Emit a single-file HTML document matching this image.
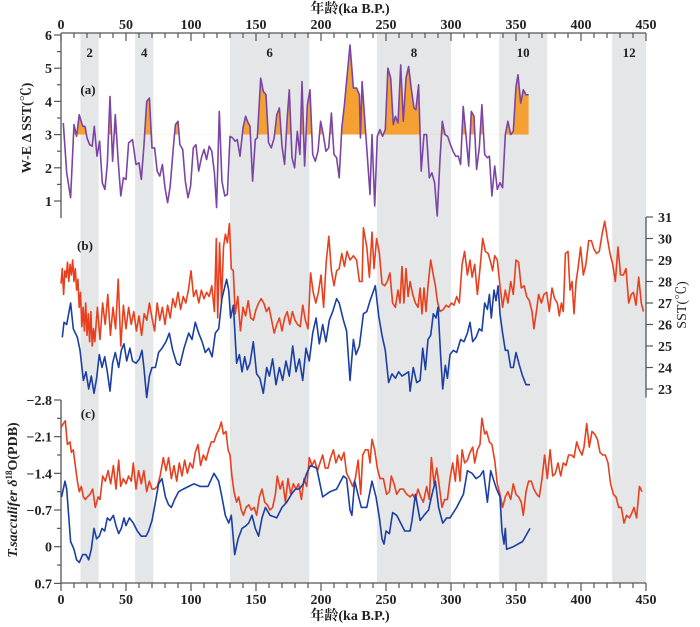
<!DOCTYPE html>
<html><head><meta charset="utf-8"><style>
html,body{margin:0;padding:0;background:#fff;}
svg{display:block;}
text{font-family:"Liberation Serif","Noto Serif CJK SC",serif;font-weight:bold;fill:#222;}
</style></head><body>
<svg id="chart" width="700" height="627" viewBox="0 0 700 627" xmlns="http://www.w3.org/2000/svg">
<g id="bands"></g>
<g id="axes"></g>
<g id="marks"></g>
<g id="labels"></g>
</svg>
<script>
// ---- data ----
const stageNames = ["2","4","6","8","10","12"];
const stageStart = [15,57,130,243,337,424];
const stageEnd = [29,71,191,300,374,450];
const xTicks = [0,50,100,150,200,250,300,350,400,450];
const aTicks = [1,2,3,4,5,6];
const bTicks = [23,24,25,26,27,28,29,30,31];
const cTicks = [-2.8,-2.1,-1.4,-0.7,0,0.7];
const cTickLabels = ["-2.8","-2.1","-1.4","-0.7","0","0.7"];

const aAge = [1.8,4.4,7.4,10,12,14,16.7,18.5,20,22,24,25.6,27.7,29.7,31.8,33.8,35.6,37.7,39.7,41.8,44,46,48,50,52,55,57.7,60,61.8,63.8,65.9,68,70,72,74,76,78,80,82,84,86.4,88,90,91.5,93.6,95.6,97.7,99.7,101.8,103.8,105.9,108,110,112,114,116,118,119.7,121.8,123.8,126,128,130,132,134,135.6,137.7,140,142,144,145.4,147.4,149.5,151,153.6,155.6,157.7,159.7,161.8,164,166,168,170,172,174,175.6,177.7,179.7,181.8,183.8,185.4,187.4,189.5,191.5,193.6,195.6,197.7,199.7,201.8,203.8,205.9,208,210,212,214,216,218,222.3,224.9,227.4,229.5,230.3,231.6,237.7,239.2,241.3,243.3,245.4,247.4,249.5,251.5,253.6,255.6,257.2,259.2,261.3,263.3,265.4,267.4,269.5,271.5,273,275.1,277.1,279.2,281.2,283.3,285.3,287.4,289.4,291.5,293.3,295.4,297.4,299.5,301.5,303.6,305.6,307.4,309.4,311.5,313.6,315.6,317.7,319.7,321.8,323.8,325.9,328,329.5,331.5,333.6,335.6,337.7,339.7,341.8,343.8,345.9,347.9,350,351.5,353.6,355.6,357.7,359.7];
const aVal = [3.35,1.85,1.1,3.3,2.95,3.6,3.25,3.25,2.9,2.7,2.65,3.25,2.35,2.8,1.55,1.35,2.1,4.15,2.2,3.6,2.2,1.15,1.7,1.65,2.75,2.85,2.1,2.15,1.65,2.65,4.0,4.1,2.6,2.6,1.9,1.75,2.1,1.4,0.95,1.45,2.6,3.3,3.4,2.7,2.55,1.6,1.1,1.45,2.6,2.7,1.9,2.3,2.55,2.25,2.65,2.5,1.85,0.8,3.7,1.6,1.15,1.2,2.95,2.9,2.8,2.85,2.35,3.2,3.55,3.35,3.25,1.6,2.85,2.9,4.7,4.3,4.2,2.75,2.6,2.9,3.6,3.8,2.65,2.1,3.5,4.35,2.3,2.0,3.1,2.4,4.6,2.05,3.9,4.35,2.4,2.2,2.5,3.4,3.0,2.5,2.6,3.65,2.4,2.3,1.7,3.2,3.9,5.7,4.4,4.4,4.2,2.9,4.6,1.2,3.0,0.85,2.95,3.15,2.95,3.15,5.0,4.7,3.3,3.55,3.35,5.1,3.4,4.7,5.05,4.35,3.8,3.75,4.5,1.9,3.0,3.0,1.7,1.85,1.55,0.55,2.2,3.4,3.0,2.95,2.7,2.5,2.35,2.35,2.1,3.85,3.0,2.05,3.7,3.55,1.95,2.6,3.9,2.4,2.3,2.35,1.15,2.05,1.35,1.55,1.4,3.0,3.4,3.0,3.1,4.45,4.8,3.95,4.35,4.2,4.2];

const bRedAge = [0,1,2,3,4,5,6,7,8,9,10,11,12,13,14,15,16,17,18,19,20,21,22,23,24,25,26,28,30,32,34,36,38,40,42,44,46,48,50,52,54,56,58,60,62,64,66,68,70,72,74,76,78,80,82,84,86,88,90,92,94,96,98,100,102,104,106,108,110,112,114,116,118,119.5,120.5,122,123.5,125,126.5,128,129.5,131,132.5,134,136,138,140,142,144,146,148,150,152,154,156,158,160,162,164,166,168,170,172,174,176,178,180,182,184,186,188,190,192,194,196,198,200,202,204,206,208,210,212,214,216,218,220,222.3,224.9,227.4,229.5,231.6,232.6,235.2,237.2,239.2,240.8,242.8,244.9,246.9,249,251,253,255.1,257.2,259.2,260.8,262.3,263.8,265.4,267,268.5,270.5,272.6,274.6,276.2,277.7,279.2,280.8,282.3,284.4,286.4,288,289.5,291.5,294.1,296.2,298.2,300.3,302.3,304.4,306.4,308.5,310.5,312.6,314.6,316.2,318.2,320.3,322.3,324.4,326.4,328.5,330.5,332,333.6,335.6,337.7,339.7,341.8,343.8,345.9,347.9,350,352,354.1,356.2,358.2,360.3,362.3,363.8,365.9,367.4,369.5,371.5,373.6,375.6,377.7,379.7,381.8,383.3,384.9,386.4,388,390,391.5,393.1,394.6,396.2,397.7,399.7,401.8,403.8,405.9,408,410,412,414.1,416.2,418.2,420.3,422.3,424.4,426.4,428.5,430.5,432.6,434.6,436.7,438.7,440.3,442.3,444.4,446.4,448];
const bRedVal = [27.9,28.6,27.4,28.5,28.2,28.9,28.0,28.8,28.3,29.0,28.0,28.6,27.6,28.1,26.8,27.5,25.9,26.8,25.7,27.0,25.5,26.5,25.2,26.6,25.0,25.8,25.2,26.8,25.3,27.0,26.0,27.4,25.5,26.8,25.8,28.1,25.0,26.9,25.8,26.8,26.0,26.6,25.7,26.4,25.5,26.5,26.2,27.0,26.3,25.7,27.0,26.2,26.8,26.0,26.9,26.3,27.2,26.8,27.5,26.7,27.3,27.0,27.6,28.5,27.3,27.6,27.0,27.6,27.2,27.5,27.3,27.8,26.6,30.0,26.3,29.8,27.0,29.6,30.2,29.8,30.7,28.6,28.5,26.5,27.3,25.7,26.8,26.4,27.1,26.3,26.2,26.7,27.0,27.2,27.0,26.6,26.8,26.2,25.6,26.0,26.3,25.7,26.3,26.6,26.0,26.6,26.2,26.0,25.9,26.9,26.2,25.8,28.4,27.5,27.0,27.5,28.3,26.8,28.9,30.1,28.5,27.8,28.5,28.6,29.3,28.7,29.4,29.0,29.2,29.0,28.0,28.0,30.5,29.6,28.2,30.3,28.6,30.0,29.3,27.9,27.8,28.0,28.4,27.0,26.8,27.6,27.0,28.7,27.0,28.6,27.3,28.0,27.4,27.0,26.8,27.7,26.5,27.7,26.6,27.8,29.0,28.3,27.8,27.1,26.6,26.7,26.9,26.8,27.0,26.9,27.3,27.0,28.8,29.4,28.3,29.0,28.2,28.8,27.4,28.6,30.0,29.4,29.3,28.9,28.5,29.2,29.0,27.8,26.8,27.6,27.0,28.0,27.4,29.0,28.9,27.7,27.8,27.3,27.1,26.6,25.8,26.7,27.4,27.0,27.4,27.5,26.6,27.7,27.2,27.0,26.4,27.0,26.6,29.3,29.4,27.6,28.0,26.5,28.0,28.6,29.6,28.3,28.8,29.9,29.9,29.5,29.3,29.4,30.2,30.8,30.0,29.3,28.8,28.0,29.6,28.3,28.3,28.6,27.0,27.4,27.5,26.9,28.2,27.0,26.6];

const bBlueAge = [1,2.3,4.4,7.4,9.5,12.6,14.6,17.2,19.2,21.3,23.3,25.4,27.4,29.5,31.5,33.6,35.6,37.7,39.7,41.8,44.4,46.4,48.5,50.5,53,55,57.7,60.3,62.3,63.8,65.9,68,70,72.6,75.1,77.7,80.8,83.3,85.9,89,91.5,94.6,98.2,100.8,103.3,105.9,108.5,111,113.6,116.2,118.7,121.3,123.8,127.4,129,130.5,132.6,135.1,137.2,139.2,141.3,143.3,145.4,147.9,150.5,153,155.6,158.2,160.3,162.8,165.4,168,170.5,173.1,175.6,178.2,180.8,183.3,185.9,188.5,191,193.6,196.2,198.7,201.3,203.8,206.4,209,212,214,217.2,219.7,222.3,224.9,226.9,229.5,232.6,235.2,237.7,241.8,244.4,246.9,249.5,252,254.6,257.2,259.7,262.3,264.9,267.4,268.5,271,273.6,276.2,278.2,280.3,282.3,284.4,286.4,288.5,290,292.1,293.6,295.6,297.2,299.2,301.8,304.4,307.4,310,312.6,314.6,316.7,319.2,321.8,323.8,325.9,328,329.5,331,333.1,334.6,336.2,337.7,339.7,341.8,343.8,345.9,347.9,350,352.6,355.1,357.7,360.8];
const bBlueVal = [25.4,26.1,26.0,27.0,25.8,25.4,24.8,23.4,23.8,23.0,23.6,22.8,23.5,24.6,24.0,24.5,23.8,22.9,24.2,24.7,24.0,24.8,25.1,24.3,24.9,24.3,24.2,24.4,24.8,24.0,22.6,23.6,24.0,24.0,24.7,24.9,25.2,25.6,24.8,24.2,24.1,24.9,25.6,25.3,26.1,25.6,25.2,24.7,24.9,24.5,25.6,25.8,27.2,28.1,27.6,26.3,26.9,24.2,24.6,23.8,24.5,23.9,24.2,25.2,23.7,23.5,22.8,24.0,23.6,24.4,23.2,24.0,23.4,24.3,23.6,25.0,23.8,24.4,23.4,24.9,24.3,25.6,26.3,25.1,26.0,25.2,26.2,26.6,27.2,27.0,26.2,25.7,23.4,25.3,24.6,25.0,26.5,26.6,27.1,27.8,26.4,25.5,24.8,23.3,23.7,23.5,23.8,23.6,23.7,23.8,22.9,24.0,23.3,23.4,24.9,23.9,25.3,25.5,26.5,26.3,26.8,24.5,23.0,24.1,23.5,24.6,24.8,24.7,25.3,25.2,25.6,26.1,25.2,25.4,25.8,25.7,27.0,26.7,27.4,26.3,27.6,27.1,27.8,26.5,25.6,24.8,24.8,24.0,24.0,24.7,24.1,23.6,23.2,23.2];

const cRedAge = [0,1.8,3.3,4.9,6.9,8,9.5,11,12.6,14.1,15.6,17.2,18.7,20.3,22.3,24.4,26.4,28.5,30,32.1,34.1,36.2,38.2,40.3,42.3,44.4,45.9,47.9,50,52,54.1,55.6,57.7,59.7,61.8,63.8,65.9,67.9,70,72,74.1,76.2,78.7,80.8,82.8,84.9,86.9,89,91,93.1,95.1,97.2,99.2,101.3,103.3,105.4,107.4,109.5,111.5,113.6,115.6,117.7,119.7,121.8,123.3,124.9,126.9,128.5,130,131.5,133.1,135.1,136.7,138.7,140.3,142.3,144.4,146.4,148.5,150.5,152.6,154.6,156.7,158.7,160.8,162.8,164.9,166.4,168.5,170.5,172.6,174.6,176.7,178.7,180.8,182.8,184.9,186.9,189,191,193.1,195.1,197.2,199.2,201.3,203.3,205.4,207.4,209.5,211.5,213.6,215.6,217.7,219.7,221.8,224.4,226.4,228.5,230.5,232.1,234.1,236.2,237.7,239.2,241.3,243.3,245.4,248,250.5,252.6,254.1,256.2,258.2,260.8,263.3,265.9,268.5,270.5,272.6,274.6,276.7,278.7,281.3,283.3,284.9,286.9,289,291,293.1,295.1,297.2,299.2,301.3,303.3,304.9,306.9,308.5,310.5,312.6,314.6,316.7,318.2,320.3,322.3,323.8,325.9,327.4,329.5,331.5,333.6,335.6,337.7,339.7,341.8,343.8,345.9,347.9,350,352,354.1,355.6,357.7,359.7,361.8,363.8,365.9,367.9,370,372,374.1,376.2,378.2,380.3,382.3,384.4,386.4,388.5,390.5,392.6,394.6,396.7,398.7,400.8,402.3,404.4,406.4,408.5,410.5,412.6,414.6,416.7,418.7,420.8,422.8,424.9,426.9,429,431,433.1,435.1,437.2,439.2,440.8,442.8,444.9,446.9];
const cRedVal = [-2.27,-2.35,-2.4,-1.95,-2.0,-1.8,-1.85,-1.55,-1.25,-1.05,-1.15,-0.95,-0.9,-0.95,-1.0,-1.1,-0.75,-0.95,-0.9,-1.35,-1.25,-1.45,-1.2,-1.55,-1.1,-1.65,-1.15,-1.3,-1.2,-1.35,-1.25,-1.6,-1.1,-1.45,-1.2,-1.45,-1.05,-1.25,-1.1,-1.1,-1.15,-1.35,-1.7,-1.45,-1.7,-1.3,-1.55,-1.25,-1.6,-1.35,-1.65,-1.4,-1.6,-1.5,-1.8,-1.95,-1.55,-1.75,-1.65,-1.85,-2.0,-2.0,-2.15,-2.25,-2.38,-2.15,-2.2,-1.85,-1.75,-1.35,-1.05,-0.85,-0.95,-0.7,-0.6,-0.75,-0.8,-0.7,-0.75,-0.6,-0.95,-1.1,-0.85,-0.8,-0.7,-0.75,-1.0,-1.35,-1.1,-1.25,-0.85,-1.3,-1.0,-1.2,-1.1,-1.2,-0.9,-1.3,-1.15,-1.7,-1.55,-1.65,-1.45,-1.6,-1.75,-1.5,-1.5,-1.7,-1.85,-1.6,-1.75,-1.65,-1.8,-1.4,-1.3,-1.15,-1.3,-1.65,-1.0,-1.75,-1.85,-1.85,-1.6,-2.05,-1.85,-1.5,-1.3,-1.3,-1.0,-1.05,-1.35,-1.2,-1.0,-1.1,-1.1,-1.0,-0.95,-1.0,-0.9,-1.1,-0.95,-0.85,-1.15,-0.9,-1.7,-1.2,-1.5,-1.15,-0.75,-0.9,-0.9,-1.3,-1.6,-1.25,-1.75,-1.25,-1.85,-1.6,-1.65,-1.8,-1.9,-1.6,-1.85,-1.95,-2.45,-2.15,-2.2,-2.0,-1.95,-1.65,-1.2,-1.0,-0.75,-0.95,-1.05,-0.9,-1.2,-1.0,-0.95,-0.85,-0.6,-1.05,-1.25,-1.25,-1.1,-1.0,-0.95,-1.3,-1.75,-1.3,-1.85,-1.35,-1.4,-1.6,-1.35,-1.6,-1.55,-1.75,-1.75,-1.7,-2.0,-1.85,-1.75,-1.9,-2.35,-1.9,-2.2,-2.15,-2.05,-1.8,-1.75,-1.75,-1.6,-1.2,-1.0,-0.95,-0.75,-0.75,-0.45,-0.6,-0.55,-0.65,-0.75,-0.55,-1.15,-1.05];

const cBlueAge = [0.5,3.1,4.4,7.4,10,12,14.1,16.7,19.2,21.3,23.3,25.4,27.4,29.5,31.5,33.6,35.6,37.7,40.3,42.3,44.4,46.4,48.5,50,52.6,55.6,58.7,61.8,65.4,67.4,70,72.6,75.1,77.7,80.3,82.8,84.9,87.4,90.5,94.1,98.2,102.3,106.9,113.1,117.7,121.3,123.8,126.4,129,131,133.6,136.2,139.2,142.3,144.4,146.9,149.5,152,154.6,157.2,160.8,165.9,170,173.6,177.2,180.3,183.3,186.4,189,192,196.7,201.3,206.9,212,217.2,219.7,222.3,223.8,225.9,227.9,231,235.2,239.2,242.3,244.9,246.9,248.5,250,252.6,255.1,258.2,261.3,264.4,268.5,270,272.6,274.1,276.2,279.2,282.8,285.4,288,290.5,293.6,296.7,299.2,304.4,309.5,312.6,316.2,319.2,322.3,324.9,328,330.5,333.1,335.1,337.7,339.2,340.8,341.8,342.8,347.9,355.1,360.8];
const cBlueVal = [-0.95,-1.25,-1.1,-0.1,0.05,0.25,0.3,0.15,0.15,0.25,0.05,-0.35,-0.15,-0.2,-0.35,-0.3,-0.55,-0.5,-0.6,-0.4,-0.25,-0.35,-0.55,-0.4,-0.55,-0.45,-0.3,-0.2,-0.2,-0.3,-0.5,-0.85,-1.2,-1.3,-0.95,-0.8,-0.75,-0.9,-1.05,-1.1,-1.15,-1.2,-1.15,-1.15,-1.4,-1.25,-0.95,-0.6,-0.45,-0.6,0.15,-0.15,-0.35,-0.4,-0.45,-0.6,-0.35,-0.2,-0.55,-0.75,-0.6,-0.55,-0.75,-0.85,-1.0,-1.1,-1.1,-1.2,-1.4,-1.55,-1.5,-0.95,-1.05,-1.1,-1.35,-1.3,-0.7,-0.6,-1.25,-1.05,-0.75,-0.75,-1.25,-0.95,-0.55,-0.15,-0.05,-0.3,-0.25,-0.65,-0.6,-0.45,-0.3,-0.3,-0.5,-1.0,-0.8,-0.5,-0.6,-0.7,-1.0,-1.25,-0.75,-0.45,-0.55,-0.55,-0.75,-1.0,-1.45,-1.4,-1.3,-1.35,-1.45,-0.85,-1.45,-1.25,-1.1,-0.95,-0.3,-0.05,-0.35,0.05,0.0,-0.1,-0.35];

// ---- scales ----
const X0 = 61, X1 = 646, TOP = 33, BOT = 583;
function x(t){ return X0 + (t/450)*(X1-X0); }
function yA(v){ return 35 + (6 - v)*33.2; }
function yB(v){ return 389 - (v - 23)*21.5; }
function yC(v){ return 546.7 + v*52.4; }

const NS = "http://www.w3.org/2000/svg";
function mk(tag, parent, attrs){
  const e = document.createElementNS(NS, tag);
  for (const k in attrs) e.setAttribute(k, attrs[k]);
  parent.appendChild(e);
  return e;
}
const gBands = document.getElementById('bands');
const gAxes = document.getElementById('axes');
const gMarks = document.getElementById('marks');
const gLab = document.getElementById('labels');

// bands
for (let i=0;i<stageNames.length;i++){
  const r = mk('rect', gBands, {x:x(stageStart[i]), y:TOP, width:x(stageEnd[i])-x(stageStart[i]), height:BOT-TOP, fill:'#e5e6e7'});
  
  
  const tx = mk('text', gLab, {x:(x(stageStart[i])+x(stageEnd[i]))/2, y:57, 'text-anchor':'middle', 'font-size':13});
  tx.textContent = stageNames[i];
  
  
}

const AX = '#555';
// top axis
mk('line', gAxes, {x1:X0, y1:TOP, x2:X1, y2:TOP, stroke:AX, 'stroke-width':1.3});
mk('line', gAxes, {x1:X0, y1:BOT, x2:X1, y2:BOT, stroke:AX, 'stroke-width':1.3});
for (let t=0;t<=450;t+=10){
  const major = t%50===0;
  mk('line', gAxes, {x1:x(t), y1:TOP, x2:x(t), y2:TOP+(major?8:5), stroke:AX, 'stroke-width':1.2});
  mk('line', gAxes, {x1:x(t), y1:BOT, x2:x(t), y2:BOT+(major?8:5), stroke:AX, 'stroke-width':1.2});
}
for (const t of xTicks){
  const a = mk('text', gLab, {x:x(t), y:29, 'text-anchor':'middle', 'font-size':14});
  a.textContent = t;
  
  
  const b = mk('text', gLab, {x:x(t), y:604, 'text-anchor':'middle', 'font-size':14});
  b.textContent = t;
  
  
}
// left axis a
mk('line', gAxes, {x1:X0, y1:yA(6), x2:X0, y2:218, stroke:AX, 'stroke-width':1.3});
for (let v=1; v<=6; v+=0.5){
  mk('line', gAxes, {x1:X0-(v%1===0?7:4), y1:yA(v), x2:X0, y2:yA(v), stroke:AX, 'stroke-width':1.2});
}
for (const v of aTicks){
  const e = mk('text', gLab, {x:52, y:yA(v)+5, 'text-anchor':'end', 'font-size':14});
  e.textContent = v;
  
  
}
// right axis b
mk('line', gAxes, {x1:X1, y1:yB(31), x2:X1, y2:yB(22.6), stroke:AX, 'stroke-width':1.3});
for (const v of bTicks){
  mk('line', gAxes, {x1:X1, y1:yB(v), x2:X1+7, y2:yB(v), stroke:AX, 'stroke-width':1.2});
  const e = mk('text', gLab, {x:658, y:yB(v)+5, 'text-anchor':'start', 'font-size':14});
  e.textContent = v;
  
  
}
// left axis c
mk('line', gAxes, {x1:X0, y1:yC(-2.8), x2:X0, y2:BOT, stroke:AX, 'stroke-width':1.3});
for (let i=0;i<=10;i++){
  const v = -2.8 + i*0.35;
  mk('line', gAxes, {x1:X0-(i%2===0?7:4), y1:yC(v), x2:X0, y2:yC(v), stroke:AX, 'stroke-width':1.2});
}
for (let i=0;i<cTicks.length;i++){
  const e = mk('text', gLab, {x:52, y:yC(cTicks[i])+5, 'text-anchor':'end', 'font-size':14});
  e.textContent = cTickLabels[i].replace('-', '\u2212');
  
  
}

// series
function linePath(ages, vals, yf){
  let d = '';
  for (let i=0;i<ages.length;i++) d += (i?'L':'M') + x(ages[i]).toFixed(1) + ',' + yf(vals[i]).toFixed(1);
  return d;
}
// orange fill for panel a above 3
const defs = mk('defs', gMarks, {});
const cp = mk('clipPath', defs, {id:'above3'});
mk('rect', cp, {x:0, y:0, width:700, height:yA(3)});
const base = yA(3);
let fd = 'M' + x(aAge[0]).toFixed(1) + ',' + base.toFixed(1);
for (let i=0;i<aAge.length;i++) fd += 'L' + x(aAge[i]).toFixed(1) + ',' + yA(aVal[i]).toFixed(1);
fd += 'L' + x(aAge[aAge.length-1]).toFixed(1) + ',' + base.toFixed(1) + 'Z';
const fill = mk('path', gMarks, {d:fd, fill:'#f5a032', 'clip-path':'url(#above3)'});



const pA = mk('path', gMarks, {d:linePath(aAge, aVal, yA), fill:'none', stroke:'#7b45a6', 'stroke-width':1.6, 'stroke-linejoin':'round'});


const pBR = mk('path', gMarks, {d:linePath(bRedAge, bRedVal, yB), fill:'none', stroke:'#e8401e', 'stroke-width':1.6, 'stroke-linejoin':'round'});


const pBB = mk('path', gMarks, {d:linePath(bBlueAge, bBlueVal, yB), fill:'none', stroke:'#1b3fa3', 'stroke-width':1.6, 'stroke-linejoin':'round'});


const pCR = mk('path', gMarks, {d:linePath(cRedAge, cRedVal, yC), fill:'none', stroke:'#e8401e', 'stroke-width':1.6, 'stroke-linejoin':'round'});


const pCB = mk('path', gMarks, {d:linePath(cBlueAge, cBlueVal, yC), fill:'none', stroke:'#1b3fa3', 'stroke-width':1.6, 'stroke-linejoin':'round'});


</script>
<svg width="700" height="627" viewBox="0 0 700 627" style="position:absolute;left:0;top:0" xmlns="http://www.w3.org/2000/svg">
<text x="350" y="13" text-anchor="middle" font-size="14">年龄(ka B.P.)</text>
<text x="350" y="620" text-anchor="middle" font-size="14">年龄(ka B.P.)</text>
<text x="88" y="94" text-anchor="middle" font-size="13">(a)</text>
<text x="85" y="250" text-anchor="middle" font-size="13">(b)</text>
<text x="88" y="418" text-anchor="middle" font-size="13">(c)</text>
<text transform="translate(31,128) rotate(-90)" text-anchor="middle" font-size="14">W-E Δ SST(℃)</text>
<text transform="translate(686,305) rotate(-90)" text-anchor="middle" font-size="14" style="font-weight:normal">SST(℃)</text>
<text transform="translate(17,490) rotate(-90)" text-anchor="middle" font-size="14"><tspan font-style="italic">T.sacculifer δ</tspan><tspan font-size="9" dy="-5">18</tspan><tspan dy="5">O(PDB)</tspan></text>
</svg>
</body></html>
